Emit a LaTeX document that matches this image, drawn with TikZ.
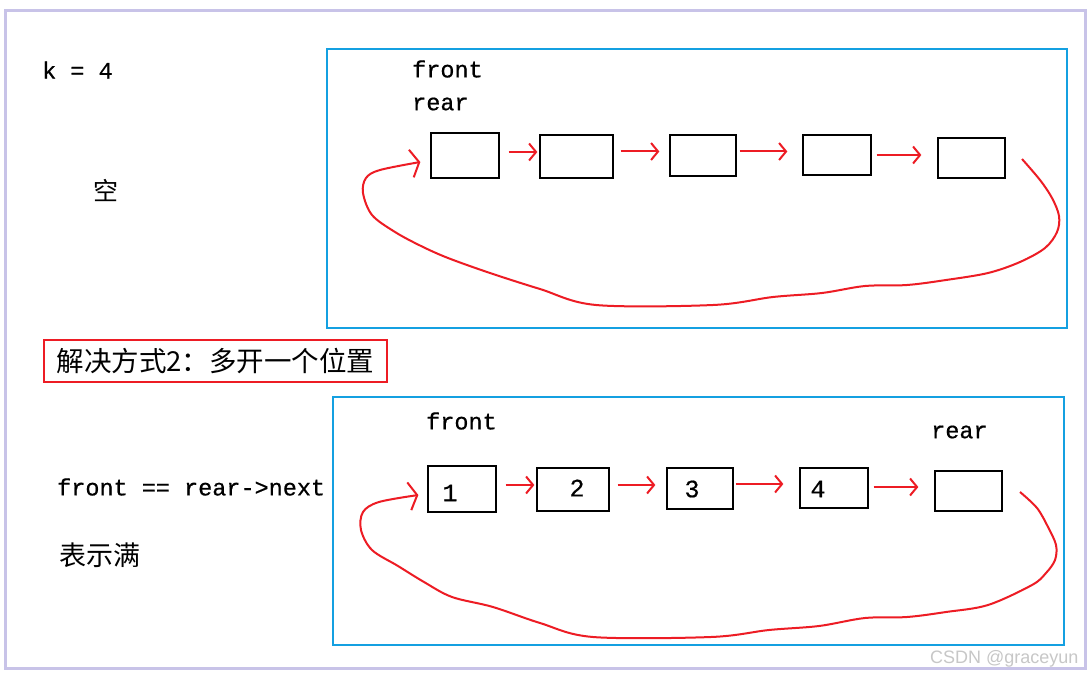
\documentclass[tikz,border=0pt]{standalone}
\usepackage{fontspec}
\newfontfamily\cjk{Noto Sans CJK SC}
\newfontfamily\mono[FakeBold=0.6]{Liberation Mono}
\newfontfamily\wmfont{Liberation Sans}
\usetikzlibrary{arrows.meta}
\definecolor{lav}{RGB}{200,195,232}
\definecolor{frameblue}{RGB}{20,160,225}
\definecolor{pred}{RGB}{237,28,36}
\tikzset{
  cell/.style={draw=black, line width=1.3pt, inner sep=0pt},
  link/.style={draw=pred, line width=2pt, -{Straight Barb[length=7pt,width=17pt]}},
  loopback/.style={draw=pred, line width=2pt, -{Straight Barb[length=8pt,width=28pt]}},
  frame/.style={draw=frameblue, line width=1.2pt},
  monotext/.style={font=\mono\fontsize{23.5pt}{23.5pt}\selectfont, inner sep=0pt, anchor=west},
  cjktext/.style={font=\cjk\fontsize{27pt}{27pt}\selectfont, inner sep=0pt},
  num/.style={font=\mono\fontsize{25pt}{25pt}\selectfont, inner sep=0pt},
  redlabel/.style={draw=pred, line width=1.3pt, inner sep=0pt, font=\cjk\fontsize{27.5pt}{27.5pt}\selectfont},
}
\begin{document}
\begin{tikzpicture}[x=1pt,y=-1pt]
\useasboundingbox (0,0) rectangle (1091,676);
\fill[white] (0,0) rectangle (1091,676);
% outer border
\draw[lav, line width=3pt] (5,11) rectangle (1085,668);
% blue frames
\draw[frame] (327,49) rectangle (1067,328);
\draw[frame] (333,397) rectangle (1064,645);

% left texts
\node[monotext] (kfour) at (42,70) {k = 4};
\node[cjktext, font=\cjk\fontsize{25pt}{25pt}\selectfont] (kong) at (106,191) {空};
\node[redlabel, minimum width=343pt, minimum height=42pt] (sol) at (215.5,361) {解决方式2：多开一个位置};
\node[monotext] (cond) at (57,487) {front == rear->next};
\node[cjktext, anchor=west] (full) at (59,555) {表示满};

% top row
\node[monotext] (tfront) at (412,69) {front};
\node[monotext] (trear) at (412,104) {rear};
\node[cell, minimum width=68pt, minimum height=45pt] (a1) at (465,155.5) {};
\node[cell, minimum width=73pt, minimum height=43pt] (a2) at (576.5,156.5) {};
\node[cell, minimum width=66pt, minimum height=41pt] (a3) at (703,155.5) {};
\node[cell, minimum width=68pt, minimum height=40pt] (a4) at (837,155) {};
\node[cell, minimum width=67pt, minimum height=40pt] (a5) at (971.5,158) {};
\draw[link] ([xshift=9pt,yshift=3.5pt]a1.east) -- ([xshift=-2pt,yshift=4.5pt]a2.west);
\draw[link] ([xshift=7pt,yshift=5pt]a2.east) -- ([xshift=-10pt,yshift=4pt]a3.west);
\draw[link] ([xshift=3pt,yshift=4pt]a3.east) -- ([xshift=-15pt,yshift=3.5pt]a4.west);
\draw[link] ([xshift=5pt,yshift=0pt]a4.east) -- ([xshift=-16pt,yshift=3pt]a5.west);
\coordinate (ts) at (1022,159);
\draw[loopback] plot[smooth, tension=0.55] coordinates {(ts) (1040,180) (1052,198) (1059,216) (1057,232) (1045,248) (1020,262) (988,273) (946,280) (907,285) (865,286) (822,293) (773,297) (713,305) (596,305) (540,289) (490,273) (448,258) (421,246) (395,232) (372,215) (363,193) (366,178) (380,170) ([xshift=-10pt,yshift=-6.5pt]a1.west)};

% bottom row
\node[monotext] (bfront) at (426,421) {front};
\node[monotext] (brear) at (931,432) {rear};
\node[cell, minimum width=68pt, minimum height=46pt] (b1) at (462,489) {};
\node[cell, minimum width=72pt, minimum height=43pt] (b2) at (573,489.5) {};
\node[cell, minimum width=66pt, minimum height=41pt] (b3) at (700,488.5) {};
\node[cell, minimum width=68pt, minimum height=40pt] (b4) at (834,488) {};
\node[cell, minimum width=67pt, minimum height=40pt] (b5) at (968.5,491) {};
\node[num] (n1) at (450,493) {1};
\node[num] (n2) at (577,488) {2};
\node[num] (n3) at (692,489) {3};
\node[num] (n4) at (818,489) {4};
\draw[link] ([xshift=9pt,yshift=4pt]b1.east) -- ([xshift=-2pt,yshift=4.5pt]b2.west);
\draw[link] ([xshift=8pt,yshift=4.5pt]b2.east) -- ([xshift=-11pt,yshift=3.5pt]b3.west);
\draw[link] ([xshift=2pt,yshift=4.5pt]b3.east) -- ([xshift=-16pt,yshift=4pt]b4.west);
\draw[link] ([xshift=5pt,yshift=1pt]b4.east) -- ([xshift=-16pt,yshift=4pt]b5.west);
\coordinate (bs) at (1020,492);
\draw[loopback] plot[smooth, tension=0.55] coordinates {(bs) (1037,508) (1048,527) (1056,545) (1055,560) (1046,573) (1032,585) (988,605) (946,612) (907,617) (865,618) (819,626) (769,630) (711,637) (593,637) (540,623) (493,607) (452,597) (424,582) (398,566) (372,550) (361,530) (363,512) (379,502) ([xshift=-9pt,yshift=-6pt]b1.west)};

% watermark
\node[font=\wmfont\fontsize{18pt}{18pt}\selectfont, text=black!22, anchor=west, inner sep=0pt] (wm) at (930,659) {CSDN @graceyun};
\end{tikzpicture}
\end{document}
